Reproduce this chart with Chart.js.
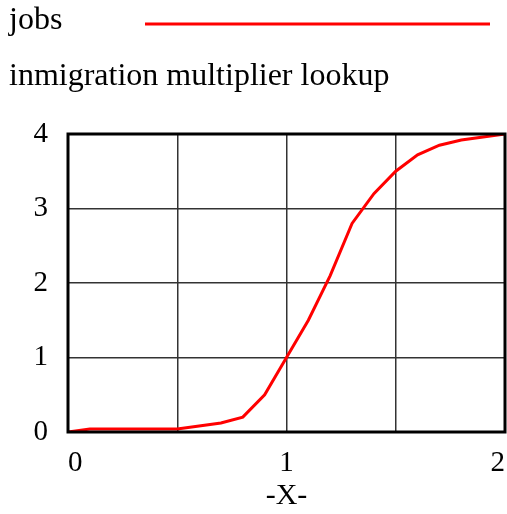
<!DOCTYPE html>
<html>
<head>
<meta charset="utf-8">
<script src="https://cdn.jsdelivr.net/npm/chart.js@4/dist/chart.umd.min.js"></script>
<style>
  html, body { margin: 0; padding: 0; background: #ffffff; }
  #wrap { width: 507px; height: 514px; }
</style>
</head>
<body>
<div id="wrap"><canvas id="myChart" width="507" height="514"></canvas></div>
<script>
// lookup points
var xValues = [0, 0.1, 0.5, 0.7, 0.8, 0.9, 1.0, 1.1, 1.2, 1.3, 1.4, 1.5, 1.6, 1.7, 1.8, 1.9, 2.0];
var yValues = [0, 0.04, 0.04, 0.12, 0.2, 0.5, 1.0, 1.5, 2.1, 2.8, 3.2, 3.5, 3.72, 3.85, 3.92, 3.96, 4.0];
var seriesName = 'jobs';
var chartTitle = 'inmigration multiplier lookup';
var xTicks = [0, 1, 2];
var yTicks = [0, 1, 2, 3, 4];
var xTitle = '-X-';

var serif = '"Liberation Serif", "Times New Roman", serif';

var points = [];
xValues.forEach(function(x, i) {
    points.push({ x: x, y: yValues[i] });
});

// header (series name + line sample, then title) and the heavy frame
var extras = {
    id: 'extras',
    afterDraw: function(chart) {
        var ctx = chart.ctx;
        var area = chart.chartArea;
        ctx.save();
        ctx.fillStyle = '#000000';
        ctx.textBaseline = 'alphabetic';
        ctx.textAlign = 'left';
        ctx.font = '32px ' + serif;
        ctx.fillText(seriesName, 9, 29);
        ctx.fillText(chartTitle, 9, 85);

        ctx.strokeStyle = '#ff0000';
        ctx.lineWidth = 3;
        ctx.beginPath();
        ctx.moveTo(145, 24);
        ctx.lineTo(490, 24);
        ctx.stroke();

        ctx.strokeStyle = '#000000';
        ctx.lineWidth = 3;
        ctx.strokeRect(area.left, area.top, area.right - area.left, area.bottom - area.top);
        ctx.restore();
    }
};

var ctx = document.getElementById('myChart').getContext('2d');
var chart = new Chart(ctx, {
    type: 'line',
    data: {
        datasets: [
            {
                label: seriesName,
                data: points,
                borderColor: '#ff0000',
                borderWidth: 3,
                pointRadius: 0,
                tension: 0,
                fill: false
            }
        ]
    },
    options: {
        responsive: false,
        animation: false,
        layout: {
            padding: { top: 134, right: 2, left: 0, bottom: 0 }
        },
        plugins: {
            legend: { display: false },
            title: { display: false },
            tooltip: { enabled: false }
        },
        scales: {
            x: {
                type: 'linear',
                min: 0,
                max: 2,
                afterBuildTicks: function(scale) {
                    var t = [];
                    for (var v = 0; v <= 2.0001; v += 0.5) t.push({ value: v });
                    scale.ticks = t;
                },
                afterFit: function(scale) {
                    scale.height = 82;
                    scale.paddingLeft = 0;
                    scale.paddingRight = 0;
                },
                grid: { color: '#333333', lineWidth: 1.5, drawTicks: false },
                border: { display: false },
                ticks: {
                    color: '#000000',
                    font: { family: serif, size: 29 },
                    padding: 14,
                    maxRotation: 0,
                    align: 'inner',
                    callback: function(v) { return xTicks.indexOf(v) >= 0 ? String(v) : ''; }
                },
                title: {
                    display: true,
                    text: xTitle,
                    color: '#000000',
                    font: { family: serif, size: 30 },
                    padding: { top: -3, bottom: 0 }
                }
            },
            y: {
                min: 0,
                max: 4,
                afterBuildTicks: function(scale) {
                    scale.ticks = yTicks.map(function(v) { return { value: v }; });
                },
                afterFit: function(scale) {
                    scale.width = 68;
                    scale.paddingTop = 0;
                    scale.paddingBottom = 0;
                },
                grid: { color: '#333333', lineWidth: 1.5, drawTicks: false },
                border: { display: false },
                ticks: {
                    color: '#000000',
                    font: { family: serif, size: 29 },
                    padding: 20
                }
            }
        }
    },
    plugins: [extras]
});
</script>
</body>
</html>
